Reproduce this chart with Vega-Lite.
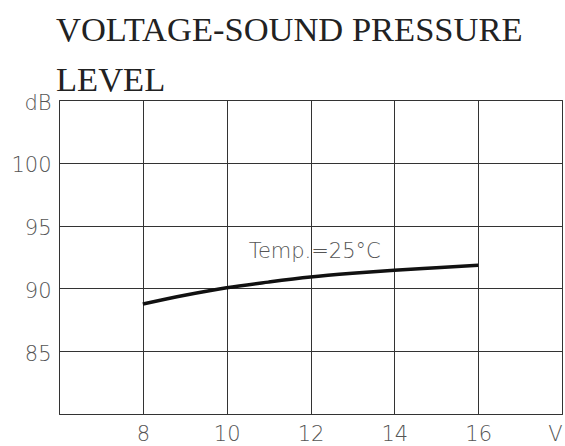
{
  "$schema": "https://vega.github.io/schema/vega-lite/v6.json",
  "autosize": "none",
  "width": 503,
  "height": 314,
  "padding": {"left": 59, "top": 100, "right": 3, "bottom": 32},
  "background": "white",
  "title": {
    "text": ["VOLTAGE-SOUND PRESSURE", "LEVEL"],
    "font": "Liberation Serif",
    "fontSize": 34.5,
    "fontWeight": "normal",
    "lineHeight": 50,
    "color": "#222222",
    "anchor": "start",
    "frame": "group",
    "dx": -3,
    "offset": -6
  },
  "config": {
    "view": {"stroke": "#333333", "strokeWidth": 1},
    "axis": {
      "grid": true,
      "gridColor": "#333333",
      "gridOpacity": 1,
      "gridWidth": 1,
      "domain": false,
      "ticks": false,
      "title": null,
      "labelFont": "DejaVu Sans",
      "labelFontSize": 21,
      "labelFontWeight": 200,
      "labelColor": "#555555",
      "labelOverlap": false
    }
  },
  "datasets": {
    "curve": [
      {"v": 8, "db": 88.75},
      {"v": 9, "db": 89.45},
      {"v": 10, "db": 90.05},
      {"v": 11, "db": 90.5},
      {"v": 12, "db": 90.9},
      {"v": 13, "db": 91.2},
      {"v": 14, "db": 91.45},
      {"v": 15, "db": 91.65},
      {"v": 16, "db": 91.85}
    ],
    "notes": [
      {"v": 12.1, "db": 92.9, "label": "Temp.=25°C"}
    ]
  },
  "layer": [
    {
      "data": {"name": "curve"},
      "mark": {"type": "line", "color": "#111111", "strokeWidth": 3.5, "interpolate": "monotone"},
      "encoding": {
        "x": {
          "field": "v",
          "type": "quantitative",
          "scale": {"domain": [6, 18], "nice": false},
          "axis": {
            "values": [6, 8, 10, 12, 14, 16, 18],
            "labelExpr": "datum.value == 18 ? 'V' : datum.value == 6 ? '' : datum.label",
            "labelFlush": true,
            "labelPadding": 9
          }
        },
        "y": {
          "field": "db",
          "type": "quantitative",
          "scale": {"domain": [80, 105], "nice": false, "zero": false},
          "axis": {
            "values": [80, 85, 90, 95, 100, 105],
            "labelExpr": "datum.value == 105 ? 'dB' : datum.value == 80 ? '' : datum.label",
            "labelFlush": false,
            "labelPadding": 8,
            "labelOffset": 3
          }
        }
      }
    },
    {
      "data": {"name": "notes"},
      "mark": {"type": "text", "font": "DejaVu Sans", "fontSize": 21, "fontWeight": 200, "color": "#555555", "align": "center", "baseline": "middle"},
      "encoding": {
        "x": {"field": "v", "type": "quantitative"},
        "y": {"field": "db", "type": "quantitative"},
        "text": {"field": "label"}
      }
    }
  ]
}
